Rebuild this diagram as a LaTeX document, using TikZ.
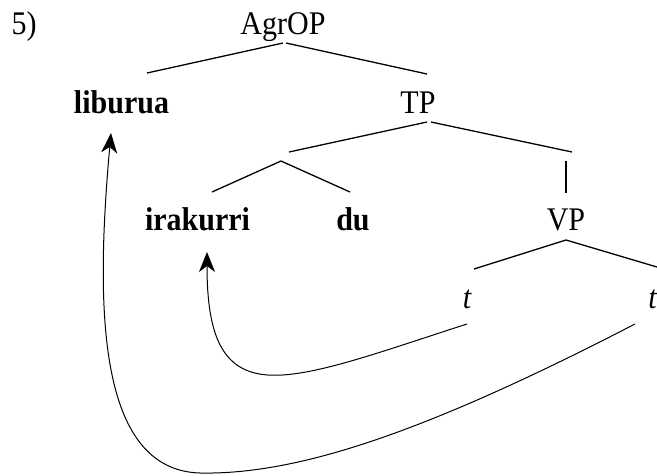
\documentclass[tikz,border=0pt]{standalone}
\usepackage{fontspec}
\setmainfont{Liberation Serif}
\usetikzlibrary{arrows.meta,calc}
\begin{document}
\begin{tikzpicture}[x=1pt,y=-1pt,
  lab/.style={inner sep=0pt, anchor=base, yscale=1.1, transform shape,
    font=\fontsize{30}{36}\selectfont},
  blab/.style={lab, font=\fontsize{30}{36}\selectfont\bfseries},
  branch/.style={line width=1.3pt},
  move/.style={line width=1pt, -{Stealth[length=20pt,width=16pt,inset=6pt]}}]
\useasboundingbox (0,0) rectangle (657,475);

% labels
\node[lab] (num)  at (24,34)    {5)};
\node[lab] (agr)  at (283,34)   {AgrOP};
\node[blab] (lib) at (121.5,113) {liburua};
\node[lab] (tp)   at (418,113)  {TP};
\node[blab] (irak) at (197.5,230) {irakurri};
\node[blab] (du)  at (353,230)  {du};
\node[lab] (vp)   at (566,230)  {VP};
\node[lab] (tL)   at (467,308)  {\itshape t};
\node[lab] (tR)   at (652.5,308) {\itshape t};

% branch points
\coordinate (agrL) at (283,43);  \coordinate (agrR) at (286,43);
\coordinate (libT) at (147,73);  \coordinate (tpT)  at (427,74);
\coordinate (tpL)  at (427,122); \coordinate (tpR)  at (431,122);
\coordinate (vL)   at (289,152); \coordinate (vR)   at (572,152);
\coordinate (vbT)  at (566,161); \coordinate (vbB)  at (566,193);
\coordinate (vTop) at (281,161);
\coordinate (irT)  at (212,192); \coordinate (duT)  at (350,192);
\coordinate (vpB)  at (566,240);
\coordinate (tLT)  at (474,269); \coordinate (tRT)  at (657,267);

% tree
\draw[branch] (libT) -- (agrL);
\draw[branch] (agrR) -- (tpT);
\draw[branch] (vL) -- (tpL);
\draw[branch] (tpR) -- (vR);
\draw[branch] (vbT) -- (vbB);
\draw[branch] (irT) -- (vTop) -- (duT);
\draw[branch] (tLT) -- (vpB) -- (tRT);

% movement arrows
\draw[move] ($(tL.base)+(0,16)$) .. controls (380,352) and (310,378) .. (268,375)
  .. controls (222,372) and (207,335) .. ($(irak.base)+(9.5,22)$);
\draw[move] ($(tR.base)+(-17.5,16)$) .. controls (430,430) and (300,475) .. (200,473)
  .. controls (95,470) and (96,300) .. ($(lib.base)+(-10.5,20)$);
\end{tikzpicture}
\end{document}
